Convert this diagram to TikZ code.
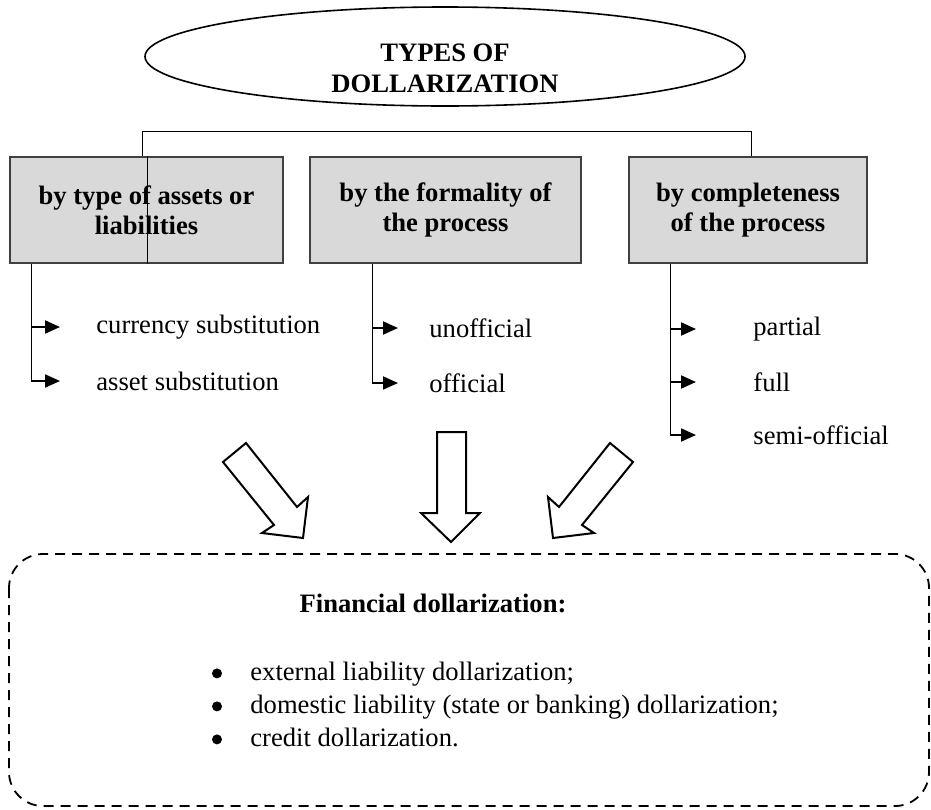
\documentclass[tikz,border=0pt]{standalone}
\usepackage{fontspec}
\setmainfont{Liberation Serif}
\usetikzlibrary{shapes.geometric,arrows.meta}

\tikzset{
  catbox/.style={draw=black!75, line width=0.6pt, fill=black!15, minimum height=53pt,
    align=center, font=\fontsize{13.3}{15}\selectfont\bfseries},
  itemtext/.style={anchor=west, inner sep=0pt, font=\fontsize{13.3}{15}\selectfont},
  branch/.style={line width=0.5pt},
  itemarrow/.style={line width=1pt, -{Triangle[length=7.5pt,width=6.5pt]}},
  bigarrow/.style={draw, line width=1pt, fill=white, line join=miter},
  finframe/.style={line width=0.9pt, dash pattern=on 5pt off 3.5pt, rounded corners=17pt},
  finbullet/.style={fill=black},
}

\begin{document}
\begin{tikzpicture}[x=0.5pt,y=-0.5pt]
  \useasboundingbox (0,0) rectangle (931,809);

  % title
  \node[draw, ellipse, line width=0.8pt, minimum width=300pt, minimum height=49.5pt] (title) at (445,56.5) {};
  \node[align=center, font=\fontsize{13.3}{15.5}\selectfont\bfseries] (titletext) at (445,68) {TYPES OF\\DOLLARIZATION};

  % criteria
  \node[catbox, minimum width=136.5pt] (bya) at (146.5,210) {by type of assets or\\liabilities};
  \node[catbox, minimum width=135.5pt] (byf) at (445.5,210) {by the formality of\\the process};
  \node[catbox, minimum width=119pt] (byc) at (748,210) {by completeness\\of the process};

  \coordinate (hl) at (142,131);
  \coordinate (hl2) at (147,131);
  \coordinate (hr) at (751,131);
  \draw[branch] (hl) -- (hr);
  \draw[branch] (hl) -- (hl |- bya.north);
  \draw[branch] (hr) -- (hr |- byc.north);
  \draw[branch] (hl2 |- bya.north) -- (hl2 |- bya.south);

  % by type of assets
  \coordinate (la) at (31,0);
  \node[itemtext] (cs) at (96,327) {currency substitution};
  \node[itemtext] (as) at (96,381) {asset substitution};
  \draw[branch] (la |- bya.south) -- (la |- as.west);
  \draw[itemarrow, shorten >=18pt] (la |- cs.west) -- (cs.west);
  \draw[itemarrow, shorten >=18pt] (la |- as.west) -- (as.west);

  % by formality
  \coordinate (lf) at (372,0);
  \node[itemtext] (uo) at (429,328) {unofficial};
  \node[itemtext] (of) at (429,383) {official};
  \draw[branch] (lf |- byf.south) -- (lf |- of.west);
  \draw[itemarrow, shorten >=15.5pt] (lf |- uo.west) -- (uo.west);
  \draw[itemarrow, shorten >=15.5pt] (lf |- of.west) -- (of.west);

  % by completeness
  \coordinate (lc) at (670,0);
  \node[itemtext] (pa) at (753,329) {partial};
  \node[itemtext] (fu) at (753,382) {full};
  \node[itemtext] (so) at (753,435) {semi-official};
  \draw[branch] (lc |- byc.south) -- (lc |- so.west);
  \draw[itemarrow, shorten >=28.5pt] (lc |- pa.west) -- (pa.west);
  \draw[itemarrow, shorten >=28.5pt] (lc |- fu.west) -- (fu.west);
  \draw[itemarrow, shorten >=28.5pt] (lc |- so.west) -- (so.west);

  % block arrows
  \draw[bigarrow] (223,462) -- (246,443) -- (297,507) -- (308,497) -- (303,538) -- (262,533) -- (274,525) -- cycle;
  \draw[bigarrow] (437,432) -- (466,432) -- (466,513) -- (480,513) -- (451,542) -- (421,513) -- (437,513) -- cycle;
  \draw[bigarrow] (633,462) -- (610,443) -- (559,507) -- (548,497) -- (553,538) -- (594,533) -- (582,525) -- cycle;

  % financial dollarization
  \draw[finframe] (9,554) rectangle (929,806);
  \node[font=\fontsize{13.3}{15}\selectfont\bfseries] (fintitle) at (433,603) {Financial dollarization:};
  \node[itemtext, anchor=base west] (fin1) at (250,680) {external liability dollarization;};
  \node[itemtext, anchor=base west] (fin2) at (250,713) {domestic liability (state or banking) dollarization;};
  \node[itemtext, anchor=base west] (fin3) at (250,746) {credit dollarization.};
  \foreach \i in {1,2,3}
    \fill[finbullet] ([xshift=-16.5pt,yshift=3.3pt]fin\i.base west) circle (2.5pt);
\end{tikzpicture}
\end{document}
